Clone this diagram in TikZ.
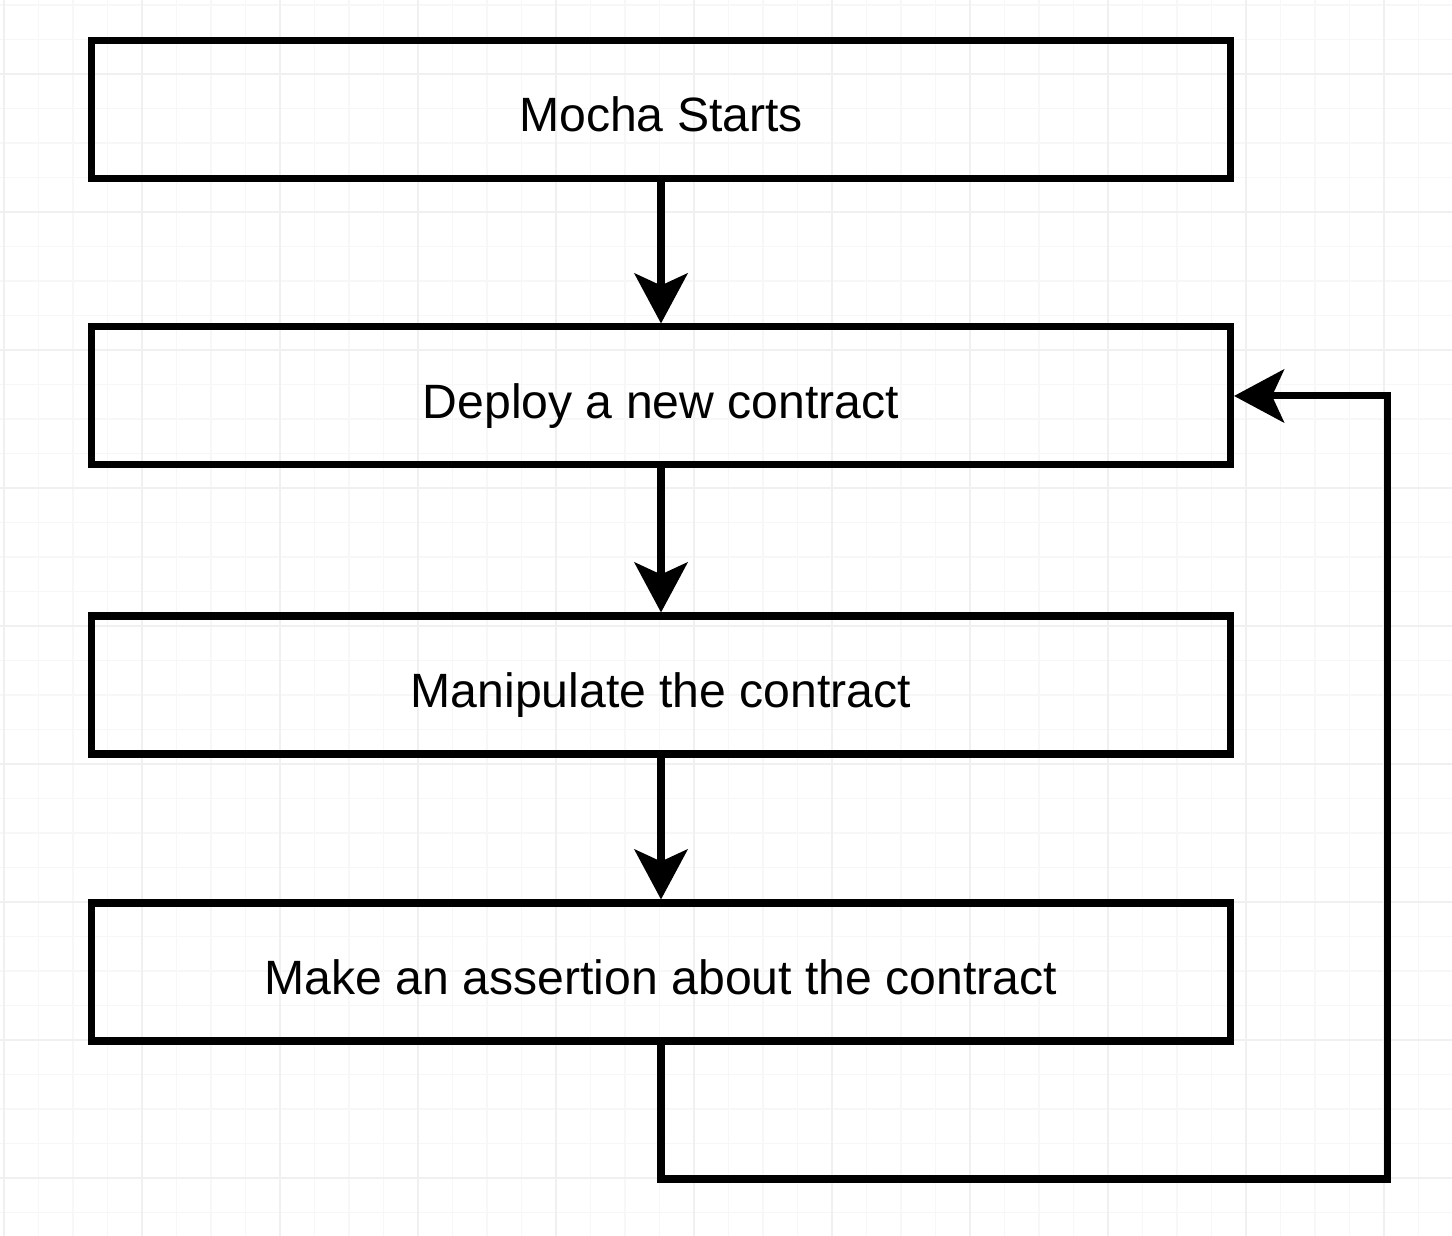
\documentclass[tikz,border=0pt]{standalone}
\usepackage{fontspec}
\setmainfont{Liberation Sans}
\usetikzlibrary{arrows.meta}

\begin{document}
\begin{tikzpicture}
\useasboundingbox [fill=white] (0,0) rectangle (14.52,12.36);

% background grid
\begin{scope}[shift={(0.04,0.235)}]
    \draw [black!3,line width=0.5pt,step=0.345] (-0.04,-0.235) grid (14.48,12.125);
    \draw [black!6,line width=0.6pt,step=1.38,yshift=3.45mm] (-0.04,-0.58) grid (14.48,11.78);
\end{scope}

\begin{scope}[every node/.style={rectangle,draw,line width=2pt,
              minimum width=11.39cm,minimum height=1.38cm,inner sep=0pt,
              text height=12.8pt,text depth=0pt,
              font=\fontsize{13.7}{16}\selectfont}]
    \node (S) at (6.61,11.265) {Mocha Starts};
    \node (D) at (6.61,8.40) {Deploy a new contract};
    \node (M) at (6.61,5.51) {Manipulate the contract};
    \node (A) at (6.61,2.64) {Make an assertion about the contract};
\end{scope}
\coordinate (loop) at (13.87,0.57);

\begin{scope}[every edge/.style={draw=black,line width=2pt}]
    \path [-{Stealth[length=5mm,width=5.3mm,inset=1.2mm]}] (S) edge (D);
    \path [-{Stealth[length=5mm,width=5.3mm,inset=1.2mm]}] (D) edge (M);
    \path [-{Stealth[length=5mm,width=5.3mm,inset=1.2mm]}] (M) edge (A);
    \draw [line width=2pt,-{Stealth[length=5mm,width=5.3mm,inset=1.2mm]}]
        (A.south) |- (loop) |- (D.east);
\end{scope}
\end{tikzpicture}
\end{document}
